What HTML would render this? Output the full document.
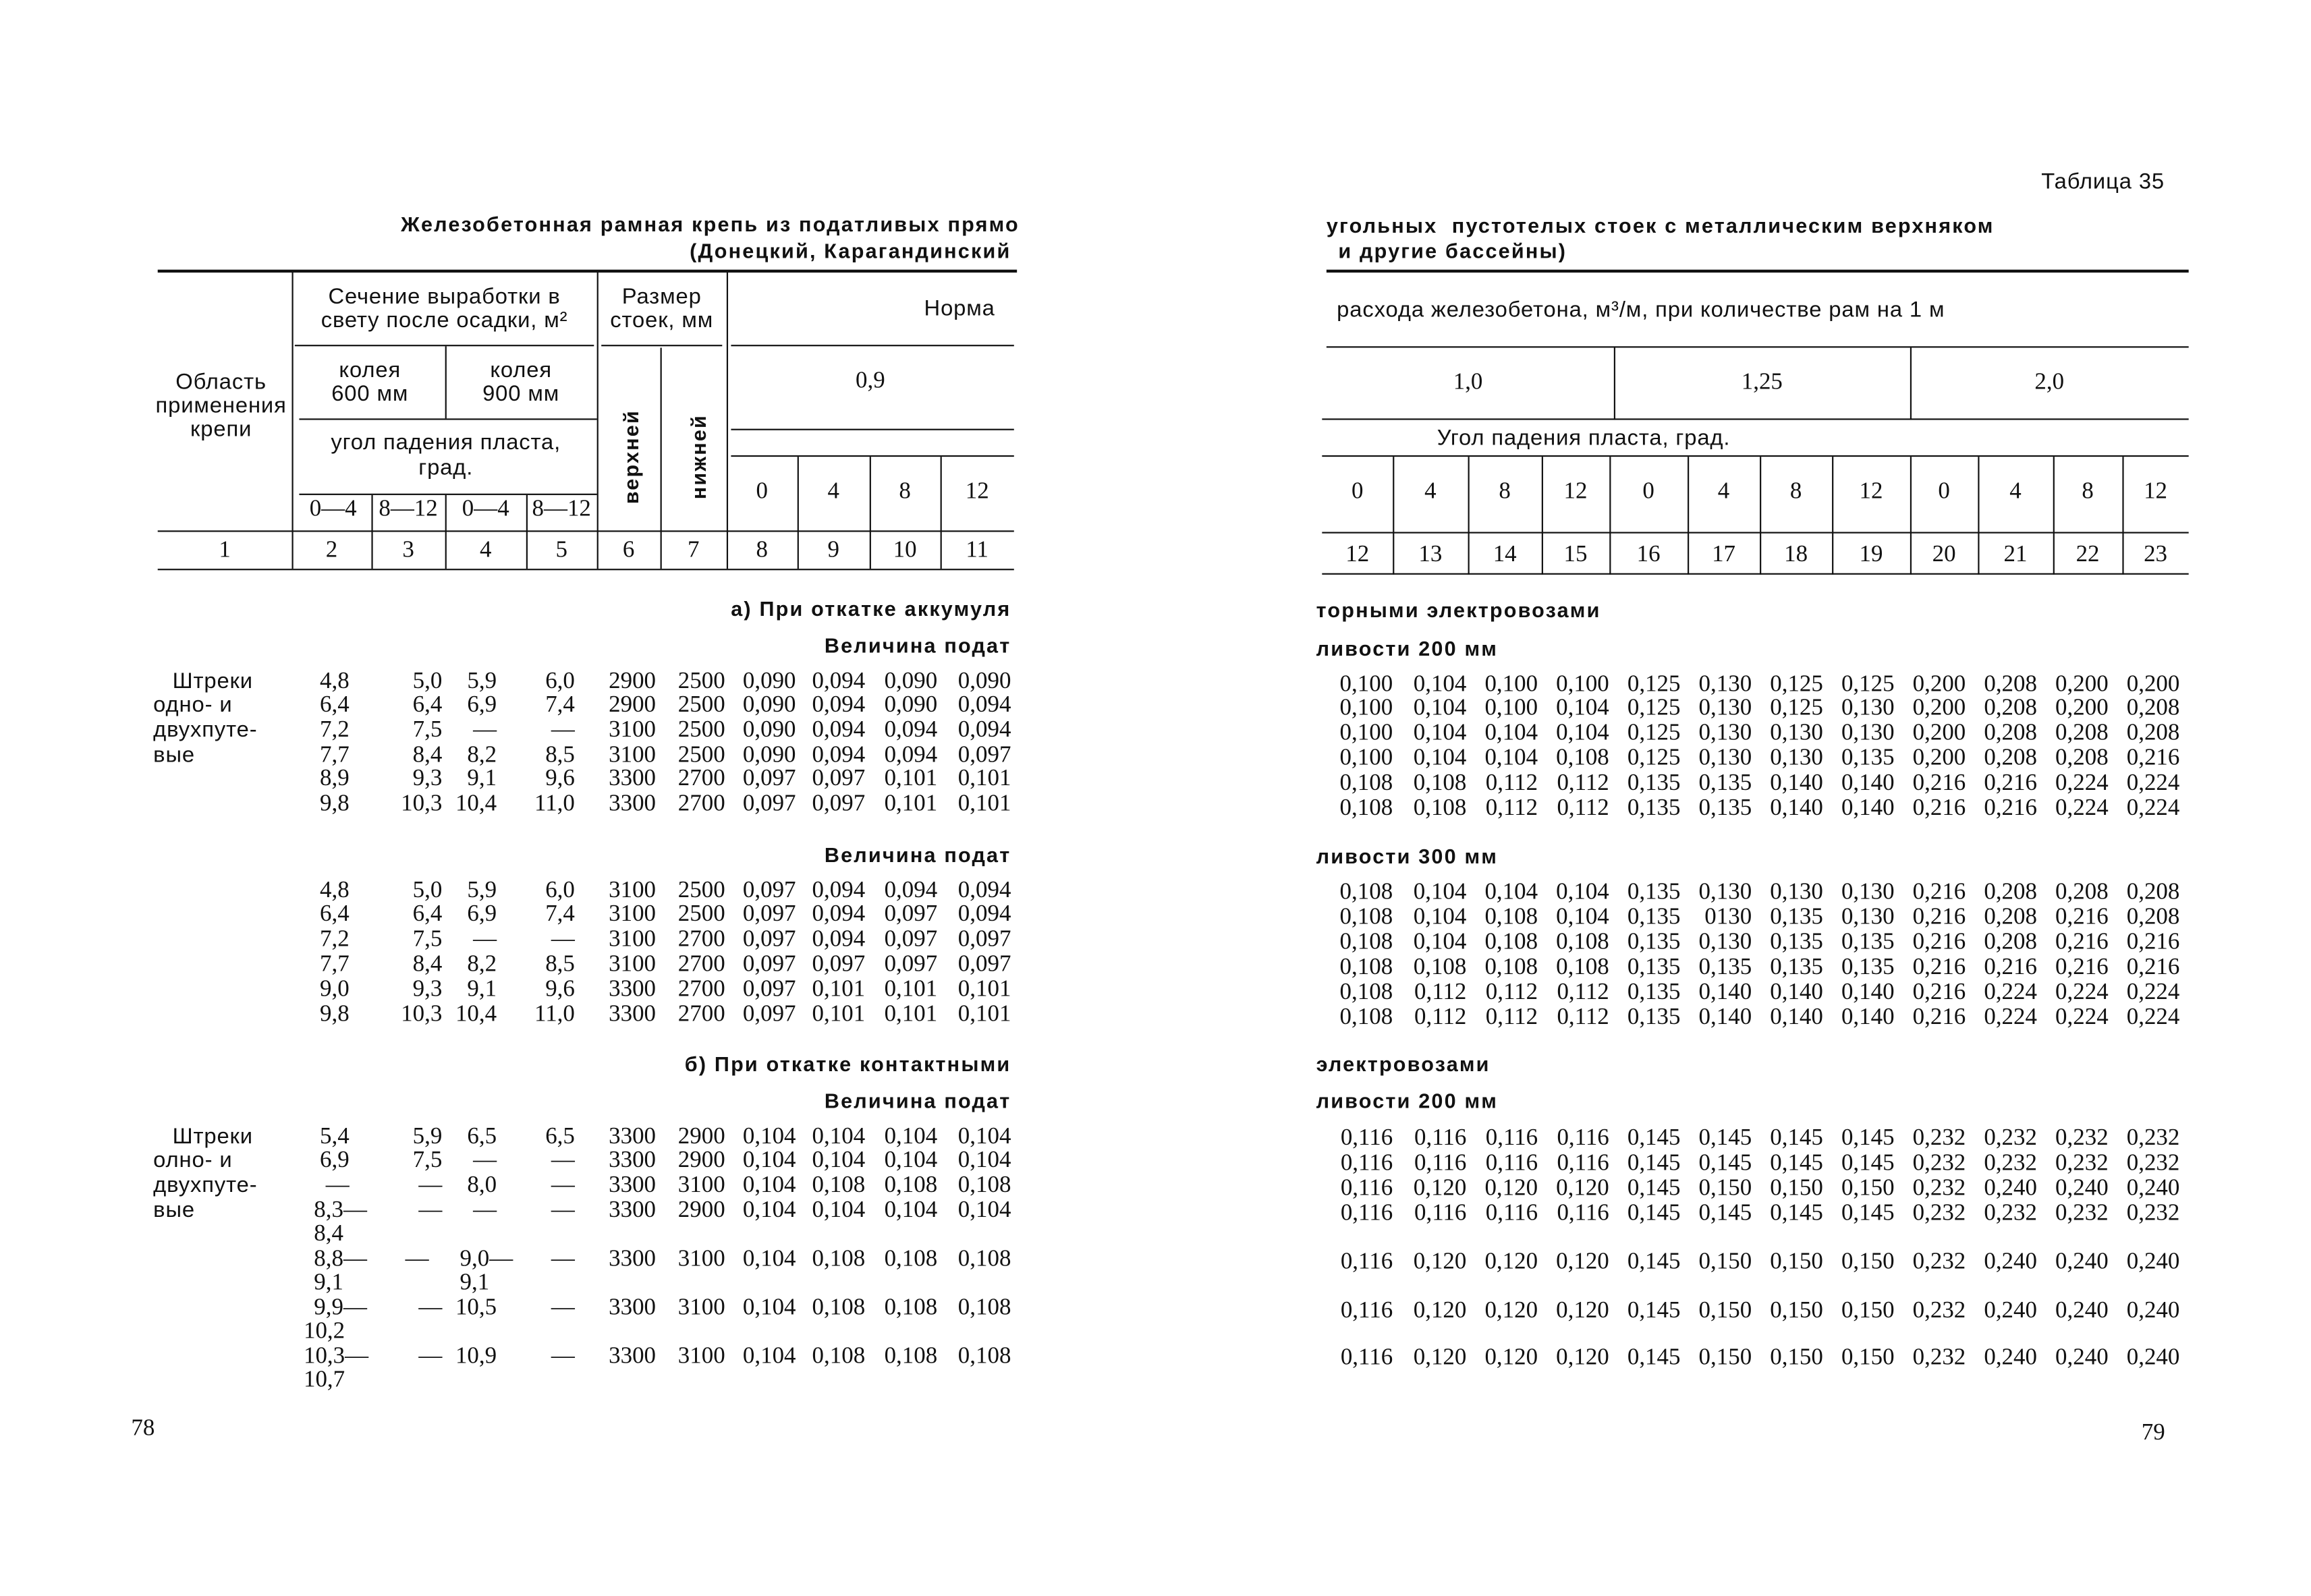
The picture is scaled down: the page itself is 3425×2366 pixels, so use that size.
<!DOCTYPE html>
<html><head><meta charset="utf-8"><style>
html,body{margin:0;padding:0;background:#fff;}
body{width:3425px;height:2365px;overflow:hidden;position:relative;}
#w{position:absolute;left:0;top:0;width:1568px;height:1083px;transform:scale(2.1843);transform-origin:0 0;color:#111;font-family:"Liberation Serif",serif;font-size:16px;}
.t{position:absolute;white-space:nowrap;line-height:18px;}
.h{font-family:"Liberation Sans",sans-serif;font-size:15px;letter-spacing:0.4px;}
.b{font-family:"Liberation Sans",sans-serif;font-weight:bold;font-size:14px;letter-spacing:1px;}
.ln{position:absolute;background:#111;}
.c{text-align:center;}
.L,.R{position:absolute;white-space:nowrap;line-height:18px;}
.L{left:180px}.R{left:895px}
.L span,.R span{display:inline-block;text-align:right;}
.L span:nth-child(1){width:57px}.L span:nth-child(2){width:63px}.L span:nth-child(3){width:37px}.L span:nth-child(4){width:53px}.L span:nth-child(5){width:55px}.L span:nth-child(6){width:47px}.L span:nth-child(7){width:48px}.L span:nth-child(8){width:47px}.L span:nth-child(9){width:49px}.L span:nth-child(10){width:50px}
.R span{width:48.4px}
.R span:nth-child(1){width:50px}.R span:nth-child(2){width:50px}
.v{position:absolute;transform:rotate(-90deg);white-space:nowrap;font-family:"Liberation Sans",sans-serif;font-weight:bold;font-size:14px;letter-spacing:1px;}
</style></head><body><div id="w">

<!-- LEFT PAGE -->
<div class="t b" style="left:272px;top:143px">Железобетонная рамная крепь из податливых прямо</div>
<div class="t b" style="right:882px;top:161px">(Донецкий, Карагандинский</div>

<div class="ln" style="left:107px;top:183px;width:583px;height:2px"></div>
<div class="ln" style="left:198px;top:184px;width:1px;height:202px"></div>
<div class="ln" style="left:405px;top:184px;width:1px;height:202px"></div>
<div class="ln" style="left:448px;top:236px;width:1px;height:150px"></div>
<div class="ln" style="left:493px;top:184px;width:1px;height:202px"></div>
<div class="ln" style="left:200px;top:234px;width:203px;height:1px"></div>
<div class="ln" style="left:408px;top:234px;width:82px;height:1px"></div>
<div class="ln" style="left:496px;top:234px;width:192px;height:1px"></div>
<div class="ln" style="left:302px;top:235px;width:1px;height:49px"></div>
<div class="ln" style="left:203px;top:284px;width:202px;height:1px"></div>
<div class="ln" style="left:496px;top:291px;width:192px;height:1px"></div>
<div class="ln" style="left:496px;top:309px;width:192px;height:1px"></div>
<div class="ln" style="left:203px;top:335px;width:202px;height:1px"></div>
<div class="ln" style="left:252px;top:336px;width:1px;height:50px"></div>
<div class="ln" style="left:302px;top:336px;width:1px;height:50px"></div>
<div class="ln" style="left:357px;top:336px;width:1px;height:50px"></div>
<div class="ln" style="left:541px;top:310px;width:1px;height:76px"></div>
<div class="ln" style="left:590px;top:310px;width:1px;height:76px"></div>
<div class="ln" style="left:638px;top:310px;width:1px;height:76px"></div>
<div class="ln" style="left:107px;top:360px;width:581px;height:1px"></div>
<div class="ln" style="left:107px;top:386px;width:581px;height:1px"></div>

<div class="t h c" style="left:198px;width:207px;top:193px">Сечение выработки в</div>
<div class="t h c" style="left:198px;width:207px;top:209px">свету после осадки, м²</div>
<div class="t h c" style="left:405px;width:88px;top:193px">Размер</div>
<div class="t h c" style="left:405px;width:88px;top:209px">стоек, мм</div>
<div class="t h" style="left:627px;top:201px">Норма</div>
<div class="t h c" style="left:100px;width:100px;top:251px">Область</div>
<div class="t h c" style="left:100px;width:100px;top:267px">применения</div>
<div class="t h c" style="left:100px;width:100px;top:283px">крепи</div>
<div class="t h c" style="left:200px;width:102px;top:243px">колея</div>
<div class="t h c" style="left:200px;width:102px;top:259px">600 мм</div>
<div class="t h c" style="left:302px;width:103px;top:243px">колея</div>
<div class="t h c" style="left:302px;width:103px;top:259px">900 мм</div>
<div class="t h c" style="left:200px;width:205px;top:292px">угол падения пласта,</div>
<div class="t h c" style="left:200px;width:205px;top:309px">град.</div>
<div class="t c" style="left:200px;width:52px;top:337px">0—4</div>
<div class="t c" style="left:252px;width:50px;top:337px">8—12</div>
<div class="t c" style="left:302px;width:55px;top:337px">0—4</div>
<div class="t c" style="left:357px;width:48px;top:337px">8—12</div>
<div class="v" style="left:396px;top:302px">верхней</div>
<div class="v" style="left:445px;top:302px">нижней</div>
<div class="t c" style="left:493px;width:195px;top:250px">0,9</div>
<div class="t c" style="left:493px;width:48px;top:325px">0</div>
<div class="t c" style="left:541px;width:49px;top:325px">4</div>
<div class="t c" style="left:590px;width:48px;top:325px">8</div>
<div class="t c" style="left:638px;width:50px;top:325px">12</div>
<div class="t c" style="left:107px;width:91px;top:365px">1</div>
<div class="t c" style="left:198px;width:54px;top:365px">2</div>
<div class="t c" style="left:252px;width:50px;top:365px">3</div>
<div class="t c" style="left:302px;width:55px;top:365px">4</div>
<div class="t c" style="left:357px;width:48px;top:365px">5</div>
<div class="t c" style="left:405px;width:43px;top:365px">6</div>
<div class="t c" style="left:448px;width:45px;top:365px">7</div>
<div class="t c" style="left:493px;width:48px;top:365px">8</div>
<div class="t c" style="left:541px;width:49px;top:365px">9</div>
<div class="t c" style="left:590px;width:48px;top:365px">10</div>
<div class="t c" style="left:638px;width:50px;top:365px">11</div>

<div class="t b" style="right:882px;top:404px">а) При откатке аккумуля</div>
<div class="t b" style="right:882px;top:429px">Величина подат</div>
<div class="t h" style="left:117px;top:454px">Штреки</div>
<div class="t h" style="left:104px;top:470px">одно- и</div>
<div class="t h" style="left:104px;top:487px">двухпуте-</div>
<div class="t h" style="left:104px;top:504px">вые</div>
<div class="L" style="top:454px"><span>4,8</span><span>5,0</span><span>5,9</span><span>6,0</span><span>2900</span><span>2500</span><span>0,090</span><span>0,094</span><span>0,090</span><span>0,090</span></div>
<div class="L" style="top:470px"><span>6,4</span><span>6,4</span><span>6,9</span><span>7,4</span><span>2900</span><span>2500</span><span>0,090</span><span>0,094</span><span>0,090</span><span>0,094</span></div>
<div class="L" style="top:487px"><span>7,2</span><span>7,5</span><span>—</span><span>—</span><span>3100</span><span>2500</span><span>0,090</span><span>0,094</span><span>0,094</span><span>0,094</span></div>
<div class="L" style="top:504px"><span>7,7</span><span>8,4</span><span>8,2</span><span>8,5</span><span>3100</span><span>2500</span><span>0,090</span><span>0,094</span><span>0,094</span><span>0,097</span></div>
<div class="L" style="top:520px"><span>8,9</span><span>9,3</span><span>9,1</span><span>9,6</span><span>3300</span><span>2700</span><span>0,097</span><span>0,097</span><span>0,101</span><span>0,101</span></div>
<div class="L" style="top:537px"><span>9,8</span><span>10,3</span><span>10,4</span><span>11,0</span><span>3300</span><span>2700</span><span>0,097</span><span>0,097</span><span>0,101</span><span>0,101</span></div>

<div class="t b" style="right:882px;top:571px">Величина подат</div>
<div class="L" style="top:596px"><span>4,8</span><span>5,0</span><span>5,9</span><span>6,0</span><span>3100</span><span>2500</span><span>0,097</span><span>0,094</span><span>0,094</span><span>0,094</span></div>
<div class="L" style="top:612px"><span>6,4</span><span>6,4</span><span>6,9</span><span>7,4</span><span>3100</span><span>2500</span><span>0,097</span><span>0,094</span><span>0,097</span><span>0,094</span></div>
<div class="L" style="top:629px"><span>7,2</span><span>7,5</span><span>—</span><span>—</span><span>3100</span><span>2700</span><span>0,097</span><span>0,094</span><span>0,097</span><span>0,097</span></div>
<div class="L" style="top:646px"><span>7,7</span><span>8,4</span><span>8,2</span><span>8,5</span><span>3100</span><span>2700</span><span>0,097</span><span>0,097</span><span>0,097</span><span>0,097</span></div>
<div class="L" style="top:663px"><span>9,0</span><span>9,3</span><span>9,1</span><span>9,6</span><span>3300</span><span>2700</span><span>0,097</span><span>0,101</span><span>0,101</span><span>0,101</span></div>
<div class="L" style="top:680px"><span>9,8</span><span>10,3</span><span>10,4</span><span>11,0</span><span>3300</span><span>2700</span><span>0,097</span><span>0,101</span><span>0,101</span><span>0,101</span></div>

<div class="t b" style="right:882px;top:713px">б) При откатке контактными</div>
<div class="t b" style="right:882px;top:738px">Величина подат</div>
<div class="t h" style="left:117px;top:763px">Штреки</div>
<div class="t h" style="left:104px;top:779px">олно- и</div>
<div class="t h" style="left:104px;top:796px">двухпуте-</div>
<div class="t h" style="left:104px;top:813px">вые</div>
<div class="L" style="top:763px"><span>5,4</span><span>5,9</span><span>6,5</span><span>6,5</span><span>3300</span><span>2900</span><span>0,104</span><span>0,104</span><span>0,104</span><span>0,104</span></div>
<div class="L" style="top:779px"><span>6,9</span><span>7,5</span><span>—</span><span>—</span><span>3300</span><span>2900</span><span>0,104</span><span>0,104</span><span>0,104</span><span>0,104</span></div>
<div class="L" style="top:796px"><span>—</span><span>—</span><span>8,0</span><span>—</span><span>3300</span><span>3100</span><span>0,104</span><span>0,108</span><span>0,108</span><span>0,108</span></div>
<div class="t" style="left:213px;top:813px">8,3—</div>
<div class="L" style="top:813px"><span></span><span>—</span><span>—</span><span>—</span><span>3300</span><span>2900</span><span>0,104</span><span>0,104</span><span>0,104</span><span>0,104</span></div>
<div class="t" style="left:213px;top:829px">8,4</div>
<div class="t" style="left:213px;top:846px">8,8—</div>
<div class="t" style="left:275px;top:846px">—</div>
<div class="t" style="left:312px;top:846px">9,0—</div>
<div class="L" style="top:846px"><span></span><span></span><span></span><span>—</span><span>3300</span><span>3100</span><span>0,104</span><span>0,108</span><span>0,108</span><span>0,108</span></div>
<div class="t" style="left:213px;top:862px">9,1</div>
<div class="t" style="left:312px;top:862px">9,1</div>
<div class="t" style="left:213px;top:879px">9,9—</div>
<div class="L" style="top:879px"><span></span><span>—</span><span>10,5</span><span>—</span><span>3300</span><span>3100</span><span>0,104</span><span>0,108</span><span>0,108</span><span>0,108</span></div>
<div class="t" style="left:206px;top:895px">10,2</div>
<div class="t" style="left:206px;top:912px">10,3—</div>
<div class="L" style="top:912px"><span></span><span>—</span><span>10,9</span><span>—</span><span>3300</span><span>3100</span><span>0,104</span><span>0,108</span><span>0,108</span><span>0,108</span></div>
<div class="t" style="left:206px;top:928px">10,7</div>

<div class="t" style="left:89px;top:961px">78</div>

<!-- RIGHT PAGE -->
<div class="t h" style="left:1385px;top:115px">Таблица 35</div>
<div class="t b" style="left:900px;top:144px">угольных&nbsp; пустотелых стоек с металлическим верхняком</div>
<div class="t b" style="left:908px;top:161px">и другие бассейны)</div>
<div class="ln" style="left:900px;top:183px;width:585px;height:2px"></div>
<div class="t h" style="left:907px;top:202px">расхода железобетона, м³/м, при количестве рам на 1 м</div>
<div class="ln" style="left:900px;top:235px;width:585px;height:1px"></div>
<div class="ln" style="left:1095px;top:236px;width:1px;height:49px"></div>
<div class="ln" style="left:1296px;top:236px;width:1px;height:49px"></div>
<div class="t c" style="left:897px;width:198px;top:251px">1,0</div>
<div class="t c" style="left:1095px;width:201px;top:251px">1,25</div>
<div class="t c" style="left:1296px;width:189px;top:251px">2,0</div>
<div class="ln" style="left:897px;top:284px;width:588px;height:1px"></div>
<div class="t h" style="left:975px;top:289px">Угол падения пласта, град.</div>
<div class="ln" style="left:897px;top:309px;width:588px;height:1px"></div>
<div class="ln" style="left:945px;top:310px;width:1px;height:80px"></div>
<div class="ln" style="left:996px;top:310px;width:1px;height:80px"></div>
<div class="ln" style="left:1046px;top:310px;width:1px;height:80px"></div>
<div class="ln" style="left:1092px;top:310px;width:1px;height:80px"></div>
<div class="ln" style="left:1145px;top:310px;width:1px;height:80px"></div>
<div class="ln" style="left:1194px;top:310px;width:1px;height:80px"></div>
<div class="ln" style="left:1243px;top:310px;width:1px;height:80px"></div>
<div class="ln" style="left:1296px;top:310px;width:1px;height:80px"></div>
<div class="ln" style="left:1342px;top:310px;width:1px;height:80px"></div>
<div class="ln" style="left:1393px;top:310px;width:1px;height:80px"></div>
<div class="ln" style="left:1440px;top:310px;width:1px;height:80px"></div>
<div class="ln" style="left:897px;top:361px;width:588px;height:1px"></div>
<div class="ln" style="left:897px;top:389px;width:588px;height:1px"></div>
<div class="t c" style="left:897px;width:48px;top:325px">0</div>
<div class="t c" style="left:945px;width:51px;top:325px">4</div>
<div class="t c" style="left:996px;width:50px;top:325px">8</div>
<div class="t c" style="left:1046px;width:46px;top:325px">12</div>
<div class="t c" style="left:1092px;width:53px;top:325px">0</div>
<div class="t c" style="left:1145px;width:49px;top:325px">4</div>
<div class="t c" style="left:1194px;width:49px;top:325px">8</div>
<div class="t c" style="left:1243px;width:53px;top:325px">12</div>
<div class="t c" style="left:1296px;width:46px;top:325px">0</div>
<div class="t c" style="left:1342px;width:51px;top:325px">4</div>
<div class="t c" style="left:1393px;width:47px;top:325px">8</div>
<div class="t c" style="left:1440px;width:45px;top:325px">12</div>
<div class="t c" style="left:897px;width:48px;top:368px">12</div>
<div class="t c" style="left:945px;width:51px;top:368px">13</div>
<div class="t c" style="left:996px;width:50px;top:368px">14</div>
<div class="t c" style="left:1046px;width:46px;top:368px">15</div>
<div class="t c" style="left:1092px;width:53px;top:368px">16</div>
<div class="t c" style="left:1145px;width:49px;top:368px">17</div>
<div class="t c" style="left:1194px;width:49px;top:368px">18</div>
<div class="t c" style="left:1243px;width:53px;top:368px">19</div>
<div class="t c" style="left:1296px;width:46px;top:368px">20</div>
<div class="t c" style="left:1342px;width:51px;top:368px">21</div>
<div class="t c" style="left:1393px;width:47px;top:368px">22</div>
<div class="t c" style="left:1440px;width:45px;top:368px">23</div>

<div class="t b" style="left:893px;top:405px">торными электровозами</div>
<div class="t b" style="left:893px;top:431px">ливости 200 мм</div>
<div class="R" style="top:456px"><span>0,100</span><span>0,104</span><span>0,100</span><span>0,100</span><span>0,125</span><span>0,130</span><span>0,125</span><span>0,125</span><span>0,200</span><span>0,208</span><span>0,200</span><span>0,200</span></div>
<div class="R" style="top:472px"><span>0,100</span><span>0,104</span><span>0,100</span><span>0,104</span><span>0,125</span><span>0,130</span><span>0,125</span><span>0,130</span><span>0,200</span><span>0,208</span><span>0,200</span><span>0,208</span></div>
<div class="R" style="top:489px"><span>0,100</span><span>0,104</span><span>0,104</span><span>0,104</span><span>0,125</span><span>0,130</span><span>0,130</span><span>0,130</span><span>0,200</span><span>0,208</span><span>0,208</span><span>0,208</span></div>
<div class="R" style="top:506px"><span>0,100</span><span>0,104</span><span>0,104</span><span>0,108</span><span>0,125</span><span>0,130</span><span>0,130</span><span>0,135</span><span>0,200</span><span>0,208</span><span>0,208</span><span>0,216</span></div>
<div class="R" style="top:523px"><span>0,108</span><span>0,108</span><span>0,112</span><span>0,112</span><span>0,135</span><span>0,135</span><span>0,140</span><span>0,140</span><span>0,216</span><span>0,216</span><span>0,224</span><span>0,224</span></div>
<div class="R" style="top:540px"><span>0,108</span><span>0,108</span><span>0,112</span><span>0,112</span><span>0,135</span><span>0,135</span><span>0,140</span><span>0,140</span><span>0,216</span><span>0,216</span><span>0,224</span><span>0,224</span></div>

<div class="t b" style="left:893px;top:572px">ливости 300 мм</div>
<div class="R" style="top:597px"><span>0,108</span><span>0,104</span><span>0,104</span><span>0,104</span><span>0,135</span><span>0,130</span><span>0,130</span><span>0,130</span><span>0,216</span><span>0,208</span><span>0,208</span><span>0,208</span></div>
<div class="R" style="top:614px"><span>0,108</span><span>0,104</span><span>0,108</span><span>0,104</span><span>0,135</span><span>0130</span><span>0,135</span><span>0,130</span><span>0,216</span><span>0,208</span><span>0,216</span><span>0,208</span></div>
<div class="R" style="top:631px"><span>0,108</span><span>0,104</span><span>0,108</span><span>0,108</span><span>0,135</span><span>0,130</span><span>0,135</span><span>0,135</span><span>0,216</span><span>0,208</span><span>0,216</span><span>0,216</span></div>
<div class="R" style="top:648px"><span>0,108</span><span>0,108</span><span>0,108</span><span>0,108</span><span>0,135</span><span>0,135</span><span>0,135</span><span>0,135</span><span>0,216</span><span>0,216</span><span>0,216</span><span>0,216</span></div>
<div class="R" style="top:665px"><span>0,108</span><span>0,112</span><span>0,112</span><span>0,112</span><span>0,135</span><span>0,140</span><span>0,140</span><span>0,140</span><span>0,216</span><span>0,224</span><span>0,224</span><span>0,224</span></div>
<div class="R" style="top:682px"><span>0,108</span><span>0,112</span><span>0,112</span><span>0,112</span><span>0,135</span><span>0,140</span><span>0,140</span><span>0,140</span><span>0,216</span><span>0,224</span><span>0,224</span><span>0,224</span></div>

<div class="t b" style="left:893px;top:713px">электровозами</div>
<div class="t b" style="left:893px;top:738px">ливости 200 мм</div>
<div class="R" style="top:764px"><span>0,116</span><span>0,116</span><span>0,116</span><span>0,116</span><span>0,145</span><span>0,145</span><span>0,145</span><span>0,145</span><span>0,232</span><span>0,232</span><span>0,232</span><span>0,232</span></div>
<div class="R" style="top:781px"><span>0,116</span><span>0,116</span><span>0,116</span><span>0,116</span><span>0,145</span><span>0,145</span><span>0,145</span><span>0,145</span><span>0,232</span><span>0,232</span><span>0,232</span><span>0,232</span></div>
<div class="R" style="top:798px"><span>0,116</span><span>0,120</span><span>0,120</span><span>0,120</span><span>0,145</span><span>0,150</span><span>0,150</span><span>0,150</span><span>0,232</span><span>0,240</span><span>0,240</span><span>0,240</span></div>
<div class="R" style="top:815px"><span>0,116</span><span>0,116</span><span>0,116</span><span>0,116</span><span>0,145</span><span>0,145</span><span>0,145</span><span>0,145</span><span>0,232</span><span>0,232</span><span>0,232</span><span>0,232</span></div>
<div class="R" style="top:848px"><span>0,116</span><span>0,120</span><span>0,120</span><span>0,120</span><span>0,145</span><span>0,150</span><span>0,150</span><span>0,150</span><span>0,232</span><span>0,240</span><span>0,240</span><span>0,240</span></div>
<div class="R" style="top:881px"><span>0,116</span><span>0,120</span><span>0,120</span><span>0,120</span><span>0,145</span><span>0,150</span><span>0,150</span><span>0,150</span><span>0,232</span><span>0,240</span><span>0,240</span><span>0,240</span></div>
<div class="R" style="top:913px"><span>0,116</span><span>0,120</span><span>0,120</span><span>0,120</span><span>0,145</span><span>0,150</span><span>0,150</span><span>0,150</span><span>0,232</span><span>0,240</span><span>0,240</span><span>0,240</span></div>

<div class="t" style="left:1453px;top:964px">79</div>
</div></body></html>
